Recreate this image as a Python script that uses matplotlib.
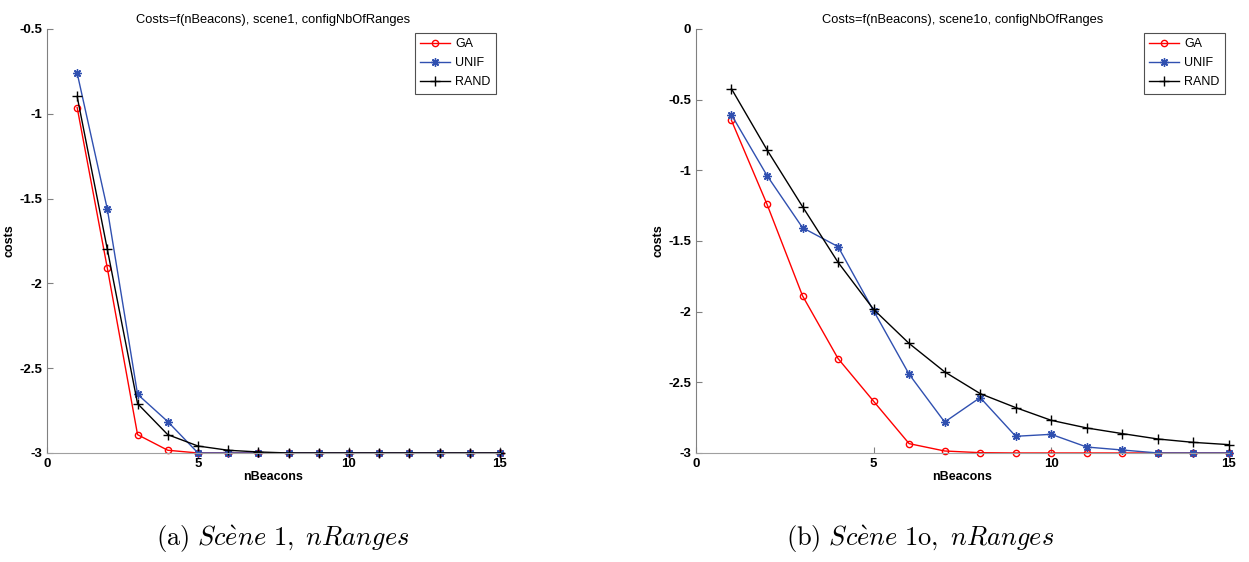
import numpy as np
import matplotlib
matplotlib.use("Agg")
import matplotlib.pyplot as plt

plt.rcParams['font.family'] = ['Liberation Sans', 'DejaVu Sans']
plt.rcParams['mathtext.fontset'] = 'cm'

n_beacons = np.arange(1, 16)

# scene 1
ga_1   = [-0.963, -1.911, -2.892, -2.984, -3.0, -3.0, -3.0, -3.0, -3.0, -3.0, -3.0, -3.0, -3.0, -3.0, -3.0]
unif_1 = [-0.760, -1.563, -2.654, -2.815, -3.0, -3.0, -3.0, -3.0, -3.0, -3.0, -3.0, -3.0, -3.0, -3.0, -3.0]
rand_1 = [-0.898, -1.800, -2.709, -2.892, -2.959, -2.984, -2.994, -3.0, -3.0, -3.0, -3.0, -3.0, -3.0, -3.0, -3.0]

# scene 1o
ga_2   = [-0.647, -1.240, -1.888, -2.332, -2.634, -2.934, -2.986, -2.998, -3.0, -3.0, -3.0, -3.0, -3.0, -3.0, -3.0]
unif_2 = [-0.607, -1.037, -1.406, -1.540, -1.994, -2.443, -2.781, -2.608, -2.882, -2.868, -2.958, -2.979, -3.0, -3.0, -3.0]
rand_2 = [-0.423, -0.855, -1.257, -1.651, -1.984, -2.225, -2.426, -2.580, -2.679, -2.769, -2.823, -2.863, -2.901, -2.925, -2.941]

titles = ['Costs=f(nBeacons), scene1, configNbOfRanges',
          'Costs=f(nBeacons), scene1o, configNbOfRanges']
captions = [r'$\mathrm{(a)}\ \mathit{Sc\grave{e}ne}\ \mathrm{1,}\ \mathit{nRanges}$',
            r'$\mathrm{(b)}\ \mathit{Sc\grave{e}ne}\ \mathrm{1o,}\ \mathit{nRanges}$']
yticks = [np.arange(-3, -0.4, 0.5), np.arange(-3, 0.1, 0.5)]
ylims = [(-3, -0.5), (-3, 0)]
xticks = [0, 5, 10, 15]

red = '#ff0000'
blue = '#3050b0'
asterisk = (8, 2, 0)

fig = plt.figure(figsize=(12.49, 5.62), dpi=100)
axes = [fig.add_axes([0.0376, 0.194, 0.3627, 0.7544]),
        fig.add_axes([0.5572, 0.194, 0.4267, 0.7544])]
data = [(ga_1, unif_1, rand_1), (ga_2, unif_2, rand_2)]
cap_x = [0.226, 0.737]

for i, ax in enumerate(axes):
    ga, unif, rnd = data[i]
    ax.plot(n_beacons, ga, color=red, marker='o', mfc='none', ms=4.5, lw=1, label='GA', clip_on=False)
    ax.plot(n_beacons, unif, color=blue, marker=asterisk, ms=6, mew=1, lw=1, label='UNIF', clip_on=False)
    ax.plot(n_beacons, rnd, color='black', marker='+', ms=6.5, lw=1, label='RAND', clip_on=False)
    ax.set_xlim(0, 15)
    ax.set_ylim(*ylims[i])
    ax.set_xticks(xticks)
    ax.set_yticks(yticks[i])
    ax.set_yticklabels(['%g' % v for v in yticks[i]])
    ax.tick_params(direction='in', length=4, labelsize=9.5, color='#808080')
    for lab in ax.get_xticklabels() + ax.get_yticklabels():
        lab.set_fontweight('bold')
    ax.spines['top'].set_visible(False)
    ax.spines['right'].set_visible(False)
    ax.spines['left'].set_color('#808080')
    ax.spines['bottom'].set_color('#a0a0a0')
    ax.set_title(titles[i], fontsize=9.3, pad=4)
    ax.set_xlabel('nBeacons', fontsize=9, fontweight='bold', labelpad=1)
    ax.set_ylabel('costs', fontsize=9, fontweight='bold', labelpad=3)
    leg = ax.legend(loc='upper right', fontsize=9, fancybox=False, framealpha=1,
                    borderaxespad=0.3, handlelength=2.4, labelspacing=0.55,
                    borderpad=0.45, handletextpad=0.4)
    leg.get_frame().set_edgecolor('#505050')
    leg.get_frame().set_linewidth(0.8)
    fig.text(cap_x[i], 0.012, captions[i], fontsize=19, ha='center', va='bottom')

fig.savefig('out.png', dpi=100)
